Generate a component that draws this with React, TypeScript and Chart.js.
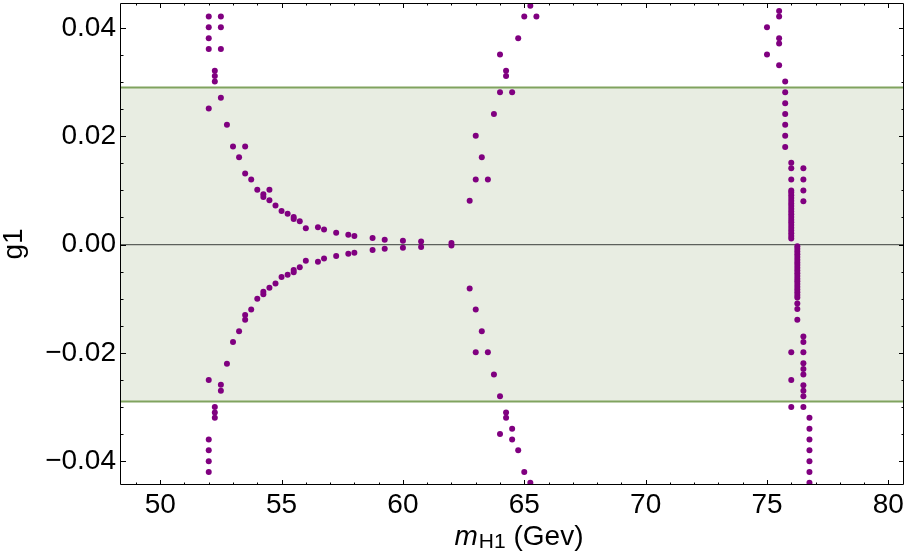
import React, { useEffect, useRef } from "react";
import { Chart, registerables } from "chart.js";

Chart.register(...registerables);

// ---- axis setup ----
const xMin = 48.385;
const xMax = 80.645;
const yMin = -0.0444;
const yMax = 0.0446;
const xTickValues = [50, 55, 60, 65, 70, 75, 80];
const xTickLabels = ["50", "55", "60", "65", "70", "75", "80"];
const yTickValues = [-0.04, -0.02, 0, 0.02, 0.04];
const yTickLabels = ["\u22120.04", "\u22120.02", "0.00", "0.02", "0.04"];
const bandLimit = 0.029;

// ---- data: [m_H1, g1] ----
const leftUpper: [number, number][] = [
  [52.0, 0.0421], [52.0, 0.0401], [52.0, 0.0381], [52.0, 0.0361], [52.0, 0.0251],
  [52.25, 0.0321], [52.25, 0.0311], [52.25, 0.0301],
  [52.5, 0.0421], [52.5, 0.0401], [52.5, 0.0361], [52.5, 0.0271],
  [52.75, 0.0221], [53.0, 0.0181], [53.25, 0.0161], [53.5, 0.0181], [53.5, 0.0131],
  [53.75, 0.012], [54.0, 0.0101], [54.25, 0.0093], [54.25, 0.0088],
  [54.5, 0.0101], [54.5, 0.0082], [54.75, 0.0072], [55.0, 0.0062], [55.25, 0.0057],
  [55.5, 0.0051], [55.5, 0.0047], [55.75, 0.0043], [56.0, 0.003], [56.5, 0.0032],
  [56.75, 0.0028], [57.25, 0.0022], [57.75, 0.0018], [58.0, 0.0016],
];
const leftLower: [number, number][] = [
  [52.0, -0.025], [52.0, -0.036], [52.0, -0.038], [52.0, -0.04], [52.0, -0.042],
  [52.25, -0.03], [52.25, -0.031], [52.25, -0.032],
  [52.5, -0.0259], [52.5, -0.027],
  [52.75, -0.022], [53.0, -0.018], [53.25, -0.016], [53.5, -0.0139], [53.5, -0.013],
  [53.75, -0.012], [54.0, -0.01], [54.25, -0.0092], [54.25, -0.0087], [54.5, -0.008],
  [54.75, -0.0072], [55.0, -0.006], [55.25, -0.0056], [55.5, -0.0051], [55.5, -0.0047],
  [55.75, -0.0042], [56.0, -0.003], [56.5, -0.0032], [56.75, -0.0026],
  [57.25, -0.0021], [57.75, -0.0017], [58.0, -0.0015],
];
const centerPoints: [number, number][] = [
  [58.75, 0.0012], [58.75, -0.001], [59.25, 0.0009], [59.25, -0.0008],
  [60.0, 0.0007], [60.0, -0.0006], [60.75, 0.00055], [60.75, -0.00045],
  [62.0, 0.0003], [62.0, -0.0002],
];
const middleUpper: [number, number][] = [
  [62.75, 0.0081], [63.0, 0.012], [63.0, 0.0201], [63.25, 0.0161], [63.5, 0.012],
  [63.75, 0.0241], [64.0, 0.0281], [64.0, 0.0351], [64.25, 0.0311], [64.25, 0.0321],
  [64.5, 0.0281], [64.75, 0.0381], [65.0, 0.0421], [65.25, 0.0441], [65.5, 0.0421],
];
const middleLower: [number, number][] = [
  [62.75, -0.0081], [63.0, -0.012], [63.0, -0.0199], [63.25, -0.016], [63.5, -0.0199],
  [63.75, -0.024], [64.0, -0.028], [64.0, -0.035], [64.25, -0.031], [64.25, -0.032],
  [64.5, -0.034], [64.5, -0.036], [64.75, -0.038], [65.0, -0.042], [65.25, -0.044],
];
const rightUpper: [number, number][] = [
  [75.0, 0.0401], [75.0, 0.0351],
  [75.5, 0.0431], [75.5, 0.0421], [75.5, 0.0381], [75.5, 0.0371], [75.5, 0.0331],
  [75.75, 0.0301], [75.75, 0.0281], [75.75, 0.0261], [75.75, 0.0241], [75.75, 0.0221],
  [75.75, 0.0201], [75.75, 0.018],
  [76.0, 0.0151], [76.0, 0.0141], [76.0, 0.012],
  [76.5, 0.0141], [76.5, 0.012], [76.5, 0.01], [76.5, 0.008],
];
const rightLower: [number, number][] = [
  [76.25, -0.0109], [76.25, -0.0119], [76.25, -0.0139],
  [76.0, -0.0199], [76.0, -0.025], [76.0, -0.03],
  [76.5, -0.017], [76.5, -0.018], [76.5, -0.0199], [76.5, -0.0219], [76.5, -0.023],
  [76.5, -0.024], [76.5, -0.026], [76.5, -0.027], [76.5, -0.028], [76.5, -0.03],
  [76.75, -0.032], [76.75, -0.034], [76.75, -0.036], [76.75, -0.038], [76.75, -0.04],
  [76.75, -0.042], [76.75, -0.044],
];
const denseUpperX = 76.0;
const denseUpperY = [
  0.0011, 0.0016, 0.0021, 0.0026, 0.0031, 0.0036, 0.0041, 0.0046, 0.0051, 0.0056,
  0.0061, 0.0066, 0.0071, 0.0076, 0.0081, 0.0086, 0.0091, 0.0096, 0.01,
];
const denseLowerX = 76.25;
const denseLowerY = [
  -0.0003, -0.0008, -0.0013, -0.0018, -0.0023, -0.0028, -0.0033, -0.0038, -0.0043,
  -0.0048, -0.0053, -0.0058, -0.0063, -0.0068, -0.0073, -0.0078, -0.0083, -0.0088,
  -0.0093, -0.0098,
];

const FONT = "'Liberation Sans', Arial, Helvetica, sans-serif";

const framePlugin = {
  id: "frameAndBand",
  beforeDatasetsDraw(chart: any) {
    const { ctx, chartArea: a, scales } = chart;
    const y = scales.y;
    const yt = y.getPixelForValue(bandLimit);
    const yb = y.getPixelForValue(-bandLimit);
    const y0 = y.getPixelForValue(0);
    ctx.save();
    ctx.fillStyle = "#e8ede2";
    ctx.fillRect(a.left, yt, a.right - a.left, yb - yt);
    ctx.strokeStyle = "#80a35f";
    ctx.lineWidth = 2;
    ctx.beginPath();
    ctx.moveTo(a.left, yt);
    ctx.lineTo(a.right, yt);
    ctx.moveTo(a.left, yb);
    ctx.lineTo(a.right, yb);
    ctx.stroke();
    ctx.strokeStyle = "#5c615c";
    ctx.lineWidth = 1.2;
    ctx.beginPath();
    ctx.moveTo(a.left, y0);
    ctx.lineTo(a.right, y0);
    ctx.stroke();
    ctx.restore();
  },
  afterDraw(chart: any) {
    const { ctx, chartArea: a, scales } = chart;
    const xs = scales.x;
    const ys = scales.y;
    ctx.save();
    ctx.strokeStyle = "#000";
    ctx.lineWidth = 1;
    ctx.beginPath();
    ctx.rect(a.left - 0.5, a.top + 0.5, a.right - a.left, a.bottom - a.top - 1);
    ctx.stroke();
    ctx.beginPath();
    for (let v = 49; v <= 80; v++) {
      const len = v % 5 === 0 ? 5 : 2.5;
      const px = Math.round(xs.getPixelForValue(v)) + 0.5;
      ctx.moveTo(px, a.bottom);
      ctx.lineTo(px, a.bottom - len);
      ctx.moveTo(px, a.top);
      ctx.lineTo(px, a.top + len);
    }
    for (let i = -8; i <= 8; i++) {
      const len = i % 4 === 0 ? 5 : 2.5;
      const py = Math.round(ys.getPixelForValue(i * 0.005)) + 0.5;
      ctx.moveTo(a.left, py);
      ctx.lineTo(a.left + len, py);
      ctx.moveTo(a.right, py);
      ctx.lineTo(a.right - len, py);
    }
    ctx.stroke();

    // axis titles
    ctx.fillStyle = "#000";
    ctx.textBaseline = "alphabetic";
    const mainFont = `28px ${FONT}`;
    const italicFont = `italic 28px ${FONT}`;
    const subFont = `21px ${FONT}`;
    ctx.font = italicFont;
    const wm = ctx.measureText("m").width;
    ctx.font = subFont;
    const wsub = ctx.measureText("H1").width;
    ctx.font = mainFont;
    const wrest = ctx.measureText(" (Gev)").width;
    const total = wm + 1 + wsub + wrest;
    let tx = 519 - total / 2;
    const base = 545;
    ctx.textAlign = "left";
    ctx.font = italicFont;
    ctx.fillText("m", tx, base);
    tx += wm + 1;
    ctx.font = subFont;
    ctx.fillText("H1", tx, base + 3);
    tx += wsub;
    ctx.font = mainFont;
    ctx.fillText(" (Gev)", tx, base);

    ctx.translate(22, (a.top + a.bottom) / 2);
    ctx.rotate(-Math.PI / 2);
    ctx.textAlign = "center";
    ctx.font = mainFont;
    ctx.fillText("g1", 0, 0);
    ctx.restore();
  },
};

export default function App() {
  const canvasRef = useRef<HTMLCanvasElement | null>(null);

  useEffect(() => {
    document.body.style.margin = "0";
    const canvas = canvasRef.current;
    if (!canvas) return;
    const toPoints = (arr: [number, number][]) => arr.map(([x, y]) => ({ x, y }));
    const data = [
      ...toPoints(leftUpper),
      ...toPoints(leftLower),
      ...toPoints(centerPoints),
      ...toPoints(middleUpper),
      ...toPoints(middleLower),
      ...toPoints(rightUpper),
      ...toPoints(rightLower),
      ...denseUpperY.map((y) => ({ x: denseUpperX, y })),
      ...denseLowerY.map((y) => ({ x: denseLowerX, y })),
    ];
    const chart = new Chart(canvas, {
      type: "scatter",
      data: {
        datasets: [
          {
            data,
            pointRadius: 3,
            pointHoverRadius: 3,
            pointBackgroundColor: "#800080",
            pointBorderWidth: 0,
            showLine: false,
          },
        ],
      },
      options: {
        animation: false,
        responsive: true,
        maintainAspectRatio: false,
        layout: { padding: { top: 0, right: 1, left: 0, bottom: 0 } },
        plugins: {
          legend: { display: false },
          tooltip: { enabled: false },
          title: { display: false },
        },
        scales: {
          x: {
            type: "linear",
            min: xMin,
            max: xMax,
            grid: { display: false, drawTicks: false },
            border: { display: false },
            afterBuildTicks: (scale: any) => {
              scale.ticks = xTickValues.map((v) => ({ value: v }));
            },
            afterFit: (scale: any) => {
              scale.height = 75;
              scale.paddingLeft = 0;
              scale.paddingRight = 0;
            },
            ticks: {
              padding: 3,
              color: "#000",
              font: { family: FONT, size: 28 },
              maxRotation: 0,
              callback: (value: any) => {
                const i = xTickValues.indexOf(Number(value));
                return i >= 0 ? xTickLabels[i] : "";
              },
            },
          },
          y: {
            type: "linear",
            min: yMin,
            max: yMax,
            grid: { display: false, drawTicks: false },
            border: { display: false },
            afterBuildTicks: (scale: any) => {
              scale.ticks = yTickValues.map((v) => ({ value: v }));
            },
            afterFit: (scale: any) => {
              scale.width = 121;
              scale.paddingTop = 0;
              scale.paddingBottom = 0;
            },
            ticks: {
              padding: 5,
              color: "#000",
              font: { family: FONT, size: 28 },
              callback: (value: any) => {
                const i = yTickValues.findIndex((v) => Math.abs(v - Number(value)) < 1e-9);
                return i >= 0 ? yTickLabels[i] : "";
              },
            },
          },
        },
      },
      plugins: [framePlugin],
    });
    return () => chart.destroy();
  }, []);

  return (
    <div style={{ width: 907, height: 560, position: "relative" }}>
      <canvas ref={canvasRef} />
    </div>
  );
}
